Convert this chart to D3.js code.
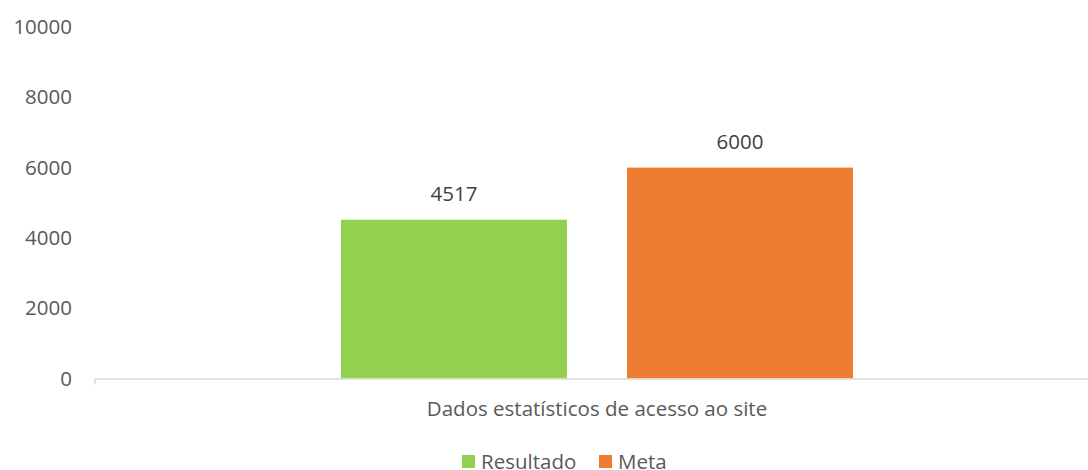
<!DOCTYPE html>
<html>
<head>
<meta charset="utf-8">
<script src="https://cdn.jsdelivr.net/npm/d3@7"></script>
<style>
  body { margin: 0; background: #fff; }
  text { font-family: "Open Sans", "Noto Sans", sans-serif; }
</style>
</head>
<body>
<div id="wrapper"></div>
<script>
// ---------- DATA ----------
const categories = ["Dados estatísticos de acesso ao site"];
const seriesNames = ["Resultado", "Meta"];
const resultado = [4517];
const meta = [6000];
const yTicks = [0, 2000, 4000, 6000, 8000, 10000];
const colors = ["#92D050", "#ED7D31"];

// ---------- DIMENSIONS ----------
const dimensions = {
  width: 1088,
  height: 470,
  margin: { top: 27, right: -11, bottom: 91.5, left: 95 },
};
dimensions.boundedWidth = dimensions.width - dimensions.margin.left - dimensions.margin.right;
dimensions.boundedHeight = dimensions.height - dimensions.margin.top - dimensions.margin.bottom;

const fontSize = "20.5px";

const svg = d3.select("#wrapper")
  .append("svg")
  .attr("width", dimensions.width)
  .attr("height", dimensions.height);

const bounds = svg.append("g")
  .attr("transform", `translate(${dimensions.margin.left},${dimensions.margin.top})`);

// ---------- SCALES ----------
const yScale = d3.scaleLinear()
  .domain([0, 10000])
  .range([dimensions.boundedHeight, 0]);

const x0 = d3.scaleBand()
  .domain(categories)
  .range([0, dimensions.boundedWidth]);

const x1 = d3.scaleBand()
  .domain(seriesNames)
  .range([0, x0.bandwidth()])
  .paddingInner(0.21)
  .paddingOuter(0.86);

const values = [resultado, meta];

// ---------- Y AXIS (labels only) ----------
const yAxis = bounds.append("g")
  .call(d3.axisLeft(yScale).tickValues(yTicks).tickSize(0).tickPadding(23).tickFormat(d3.format("d")));
yAxis.select(".domain").remove();
yAxis.selectAll("text")
  .attr("fill", "#595959")
  .style("font-size", fontSize);

// ---------- BARS ----------
categories.forEach((cat, ci) => {
  const g = bounds.append("g").attr("transform", `translate(${x0(cat)},0)`);
  seriesNames.forEach((s, si) => {
    const v = values[si][ci];
    g.append("rect")
      .attr("x", x1(s))
      .attr("y", yScale(v))
      .attr("width", x1.bandwidth())
      .attr("height", dimensions.boundedHeight - yScale(v))
      .attr("fill", colors[si]);
    g.append("text")
      .attr("x", x1(s) + x1.bandwidth() / 2)
      .attr("y", yScale(v) - 19)
      .attr("text-anchor", "middle")
      .attr("fill", "#404040")
      .style("font-size", fontSize)
      .text(v);
  });
});

// ---------- X AXIS ----------
const xAxis = bounds.append("g")
  .attr("transform", `translate(0,${dimensions.boundedHeight})`)
  .call(d3.axisBottom(x0).tickSize(0).tickPadding(23));
xAxis.select(".domain").attr("stroke", "#D9D9D9").attr("stroke-width", 1.5);
xAxis.selectAll("text")
  .attr("fill", "#595959")
  .style("font-size", fontSize);
// small tick at left edge
bounds.append("line")
  .attr("x1", 0).attr("x2", 0)
  .attr("y1", dimensions.boundedHeight).attr("y2", dimensions.boundedHeight + 6)
  .attr("stroke", "#D9D9D9").attr("stroke-width", 1.5);

// ---------- LEGEND ----------
const legend = svg.append("g").attr("transform", "translate(462,462)");
const legendX = [0, 137];
seriesNames.forEach((s, i) => {
  const item = legend.append("g").attr("transform", `translate(${legendX[i]},0)`);
  item.append("rect")
    .attr("x", 0).attr("y", -7)
    .attr("width", 13).attr("height", 13)
    .attr("fill", colors[i]);
  item.append("text")
    .attr("x", 19).attr("y", 0)
    .attr("dy", "0.35em")
    .attr("fill", "#595959")
    .style("font-size", fontSize)
    .text(s);
});
</script>
</body>
</html>
